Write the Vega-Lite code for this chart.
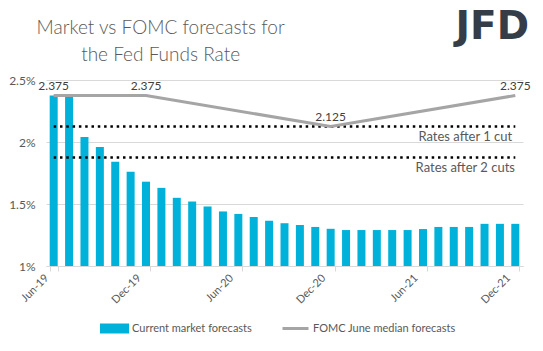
{
  "$schema": "https://vega.github.io/schema/vega-lite/v6.json",
  "width": 477,
  "height": 186,
  "autosize": "none",
  "padding": {"left": 46, "top": 80, "right": 20, "bottom": 85},
  "background": "white",
  "config": {
    "font": "Lato",
    "view": {"stroke": null}
  },
  "title": {
    "text": ["Market vs FOMC forecasts for", "the Fed Funds Rate"],
    "anchor": "start",
    "align": "center",
    "dx": 152,
    "offset": -57,
    "fontSize": 19,
    "fontWeight": 300,
    "font": "Lato",
    "color": "#595959",
    "lineHeight": 27
  },
  "datasets": {
    "market": [
      {"month": "Jun-19", "rate": 2.375},
      {"month": "Jul-19", "rate": 2.37},
      {"month": "Aug-19", "rate": 2.04},
      {"month": "Sep-19", "rate": 1.96},
      {"month": "Oct-19", "rate": 1.84},
      {"month": "Nov-19", "rate": 1.76},
      {"month": "Dec-19", "rate": 1.68},
      {"month": "Jan-20", "rate": 1.63},
      {"month": "Feb-20", "rate": 1.55},
      {"month": "Mar-20", "rate": 1.52},
      {"month": "Apr-20", "rate": 1.48},
      {"month": "May-20", "rate": 1.44},
      {"month": "Jun-20", "rate": 1.42},
      {"month": "Jul-20", "rate": 1.395},
      {"month": "Aug-20", "rate": 1.365},
      {"month": "Sep-20", "rate": 1.345},
      {"month": "Oct-20", "rate": 1.33},
      {"month": "Nov-20", "rate": 1.315},
      {"month": "Dec-20", "rate": 1.3},
      {"month": "Jan-21", "rate": 1.29},
      {"month": "Feb-21", "rate": 1.29},
      {"month": "Mar-21", "rate": 1.29},
      {"month": "Apr-21", "rate": 1.29},
      {"month": "May-21", "rate": 1.29},
      {"month": "Jun-21", "rate": 1.298},
      {"month": "Jul-21", "rate": 1.315},
      {"month": "Aug-21", "rate": 1.315},
      {"month": "Sep-21", "rate": 1.315},
      {"month": "Oct-21", "rate": 1.34},
      {"month": "Nov-21", "rate": 1.34},
      {"month": "Dec-21", "rate": 1.34}
    ],
    "fomc": [
      {"month": "Jun-19", "rate": 2.375, "label": "2.375"},
      {"month": "Dec-19", "rate": 2.375, "label": "2.375"},
      {"month": "Dec-20", "rate": 2.125, "label": "2.125"},
      {"month": "Dec-21", "rate": 2.375, "label": "2.375"}
    ],
    "cuts": [
      {"month": "Jun-19", "rate": 2.125, "cut": "Rates after 1 cut"},
      {"month": "Dec-21", "rate": 2.125, "cut": "Rates after 1 cut"},
      {"month": "Jun-19", "rate": 1.875, "cut": "Rates after 2 cuts"},
      {"month": "Dec-21", "rate": 1.875, "cut": "Rates after 2 cuts"}
    ]
  },
  "encoding": {
    "x": {
      "field": "month",
      "type": "ordinal",
      "sort": null,
      "scale": {
        "domain": ["Jun-19","Jul-19","Aug-19","Sep-19","Oct-19","Nov-19","Dec-19","Jan-20","Feb-20","Mar-20","Apr-20","May-20","Jun-20","Jul-20","Aug-20","Sep-20","Oct-20","Nov-20","Dec-20","Jan-21","Feb-21","Mar-21","Apr-21","May-21","Jun-21","Jul-21","Aug-21","Sep-21","Oct-21","Nov-21","Dec-21"],
        "paddingInner": 0.48,
        "paddingOuter": 0.24
      },
      "axis": {
        "title": null,
        "values": ["Jun-19", "Dec-19", "Jun-20", "Dec-20", "Jun-21", "Dec-21"],
        "tickBand": "extent",
        "labelAngle": -45,
        "labelAlign": "right",
        "labelBaseline": "middle",
        "labelFontSize": 11,
        "labelColor": "#595959",
        "labelOffset": -7,
        "labelPadding": 5,
        "domainColor": "#D9D9D9",
        "tickColor": "#D9D9D9",
        "tickSize": 5,
        "grid": false
      }
    },
    "y": {
      "field": "rate",
      "type": "quantitative",
      "scale": {"domain": [1, 2.5], "nice": false, "zero": false},
      "axis": {
        "title": null,
        "values": [1, 1.5, 2, 2.5],
        "labelExpr": "datum.value + '%'",
        "domain": false,
        "ticks": false,
        "gridColor": "#D9D9D9",
        "labelFontSize": 12,
        "labelColor": "#595959",
        "labelPadding": 11
      }
    }
  },
  "layer": [
    {
      "data": {"name": "market"},
      "mark": {"type": "bar"},
      "encoding": {
        "y2": {"datum": 1},
        "color": {
          "datum": "Current market forecasts",
          "type": "nominal",
          "scale": {
            "domain": ["Current market forecasts", "FOMC June median forecasts"],
            "range": ["#00B2DA", "#A5A5A5"]
          },
          "legend": {
            "title": null,
            "orient": "none",
            "legendX": 54,
            "legendY": 234,
            "direction": "horizontal",
            "gridAlign": "none",
            "symbolSize": 676,
            "labelFontSize": 11,
            "labelColor": "#595959",
            "columnPadding": 24,
            "labelOffset": 3,
            "encode": {
              "symbols": {
                "update": {
                  "shape": {"signal": "datum.value === 'Current market forecasts' ? 'M-1,-0.27H1V0.27H-1Z' : 'M-1,0H1'"},
                  "fill": {"signal": "datum.value === 'Current market forecasts' ? '#00B2DA' : 'transparent'"},
                  "stroke": {"signal": "datum.value === 'Current market forecasts' ? 'transparent' : '#A5A5A5'"},
                  "strokeWidth": {"value": 3},
                  "opacity": {"value": 1}
                }
              }
            }
          }
        }
      }
    },
    {
      "data": {"name": "cuts"},
      "mark": {"type": "line", "color": "#000000", "strokeWidth": 2.5, "strokeDash": [2.5, 3.8]},
      "encoding": {"detail": {"field": "cut"}}
    },
    {
      "data": {"name": "cuts"},
      "transform": [{"filter": "datum.month === 'Dec-21'"}],
      "mark": {"type": "text", "align": "center", "baseline": "middle", "dx": -50, "dy": 10, "fontSize": 13, "color": "#595959"},
      "encoding": {"text": {"field": "cut"}}
    },
    {
      "data": {"name": "fomc"},
      "mark": {"type": "line", "strokeWidth": 3},
      "encoding": {"color": {"datum": "FOMC June median forecasts", "type": "nominal"}}
    },
    {
      "data": {"name": "fomc"},
      "mark": {"type": "text", "baseline": "bottom", "dy": -3, "fontSize": 12, "color": "#404040"},
      "encoding": {"text": {"field": "label"}}
    },
    {
      "data": {"name": "fomc"},
      "transform": [{"filter": "datum.month === 'Dec-21'"}],
      "mark": {"type": "text", "align": "center", "baseline": "middle", "dx": -23, "fontSize": 39, "fontWeight": "bold", "font": "DejaVu Sans", "color": "#343D48"},
      "encoding": {
        "y": {"datum": 2.93, "type": "quantitative"},
        "text": {"value": "JFD"}
      }
    }
  ]
}
